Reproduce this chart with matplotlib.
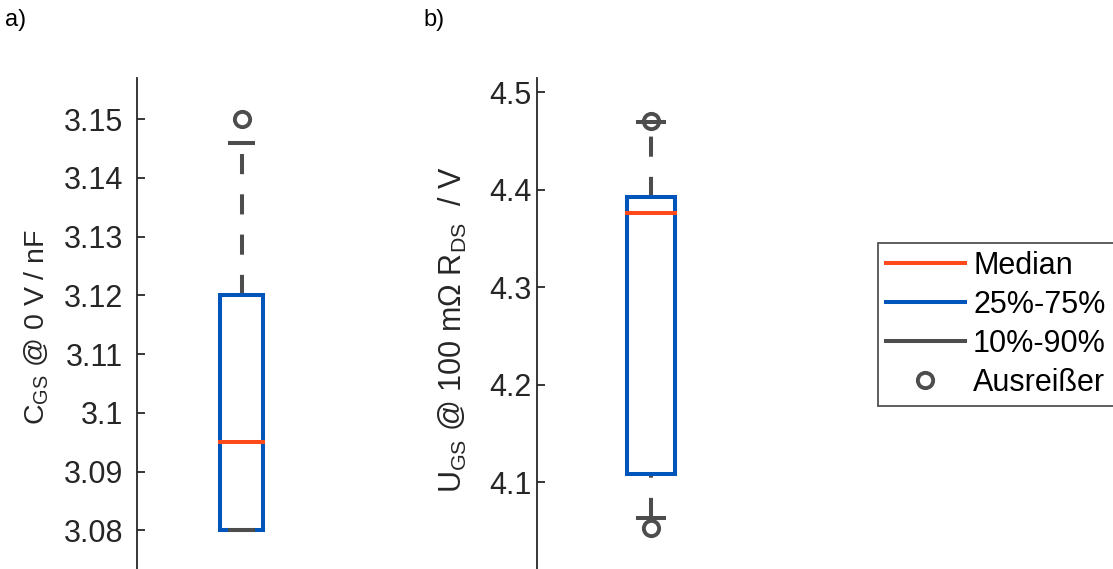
import numpy as np
import matplotlib
matplotlib.use('Agg')
import matplotlib.pyplot as plt
from matplotlib.lines import Line2D

plt.rcParams['font.family'] = ['Liberation Sans', 'DejaVu Sans']
plt.rcParams['mathtext.fontset'] = 'custom'
plt.rcParams['mathtext.rm'] = 'Liberation Sans'

# box statistics
cgs_box = [3.080, 3.120]        # 25% / 75%
cgs_median = 3.095
cgs_whisk = [3.080, 3.146]      # 10% / 90%
cgs_out = [3.150]

ugs_box = [4.108, 4.392]
ugs_median = 4.3765
ugs_whisk = [4.063, 4.469]
ugs_out = [4.053, 4.470]

cgs_ticks = [3.08, 3.09, 3.1, 3.11, 3.12, 3.13, 3.14, 3.15]
cgs_ticklabels = ['3.08', '3.09', '3.1', '3.11', '3.12', '3.13', '3.14', '3.15']
ugs_ticks = [4.1, 4.2, 4.3, 4.4, 4.5]
ugs_ticklabels = ['4.1', '4.2', '4.3', '4.4', '4.5']

legend_labels = ['Median', '25%-75%', '10%-90%', 'Ausreißer']

c_med = '#FF4A1C'
c_box = '#0055BB'
c_gray = '#4D4D4D'
c_txt = '#262626'
lw = 2.9
fs = 22

W, H = 1113, 569
fig = plt.figure(figsize=(W / 100, H / 100), dpi=100)


def px_axes(x0, y0, x1, y1):
    return fig.add_axes([x0 / W, 1 - y1 / H, (x1 - x0) / W, (y1 - y0) / H])


def draw_box(ax, box, med, whisk, out, pos=1.0, bw=0.21, cw=0.13):
    # whiskers, drawn from lower value to higher value
    ax.plot([pos, pos], [whisk[0], box[0]], color=c_gray, lw=lw,
            ls=(0, (5, 5)), solid_capstyle='butt', zorder=2)
    ax.plot([pos, pos], [box[1], whisk[1]], color=c_gray, lw=lw,
            ls=(0, (5, 5)), solid_capstyle='butt', zorder=2)
    xs = [pos - bw / 2, pos + bw / 2, pos + bw / 2, pos - bw / 2, pos - bw / 2]
    ys = [box[0], box[0], box[1], box[1], box[0]]
    ax.fill(xs, ys, color='white', zorder=3)
    ax.plot(xs, ys, color=c_box, lw=lw, zorder=4, solid_joinstyle='miter')
    ax.plot([pos - bw / 2, pos + bw / 2], [med, med], color=c_med, lw=lw, zorder=5)
    for w in whisk:
        ax.plot([pos - cw / 2, pos + cw / 2], [w, w], color=c_gray, lw=lw,
                solid_capstyle='butt', zorder=6)
    ax.plot([pos] * len(out), out, 'o', ms=11, mew=2.8, mfc='none',
            mec=c_gray, zorder=7)


def style(ax, ticks, labels, ylim, pad):
    ax.set_xlim(0.5, 1.5)
    ax.set_ylim(*ylim)
    for s in ['top', 'right', 'bottom']:
        ax.spines[s].set_visible(False)
    ax.spines['left'].set_color(c_txt)
    ax.spines['left'].set_linewidth(1.3)
    ax.set_xticks([])
    ax.set_yticks(ticks)
    ax.set_yticklabels(labels)
    ax.tick_params(axis='y', direction='in', length=6, width=1.3,
                   colors=c_txt, labelsize=fs, pad=pad)
    ax.patch.set_alpha(0)


ax1 = px_axes(137, 78, 346, 569)
draw_box(ax1, cgs_box, cgs_median, cgs_whisk, cgs_out)
style(ax1, cgs_ticks, cgs_ticklabels, (3.0734, 3.157), 10)
ax1.set_ylabel(r'C$_\mathregular{GS}$ @ 0 V / nF', fontsize=20.5, color=c_txt)
ax1.yaxis.set_label_coords(51 / W, 1 - 327 / H, transform=fig.transFigure)

ax2 = px_axes(537, 78, 765, 569)
draw_box(ax2, ugs_box, ugs_median, ugs_whisk, ugs_out)
style(ax2, ugs_ticks, ugs_ticklabels, (4.011, 4.5144), 4)
ax2.set_ylabel(r'U$_\mathregular{GS}$ @ 100 mΩ R$_\mathregular{DS}$  / V',
               fontsize=fs, color=c_txt)
ax2.yaxis.set_label_coords(469 / W, 1 - 330 / H, transform=fig.transFigure)

fig.text(5 / W, 1 - 9 / H, 'a)', fontsize=17, ha='left', va='top')
fig.text(423 / W, 1 - 9 / H, 'b)', fontsize=17, ha='left', va='top')

handles = [
    Line2D([], [], color=c_med, lw=lw),
    Line2D([], [], color=c_box, lw=lw),
    Line2D([], [], color=c_gray, lw=lw),
    Line2D([], [], ls='none', marker='o', ms=11, mew=2.8, mfc='none', mec=c_gray),
]
leg = fig.legend(handles, legend_labels, loc='upper left',
                 bbox_to_anchor=(878 / W, 1 - 243 / H), fontsize=fs,
                 frameon=True, fancybox=False, handlelength=2.6,
                 handletextpad=0.26, labelspacing=0.3, borderpad=0.25,
                 borderaxespad=0)
leg.get_frame().set_edgecolor('#262626')
leg.get_frame().set_linewidth(1.3)

fig.savefig('out.png', dpi=100)
